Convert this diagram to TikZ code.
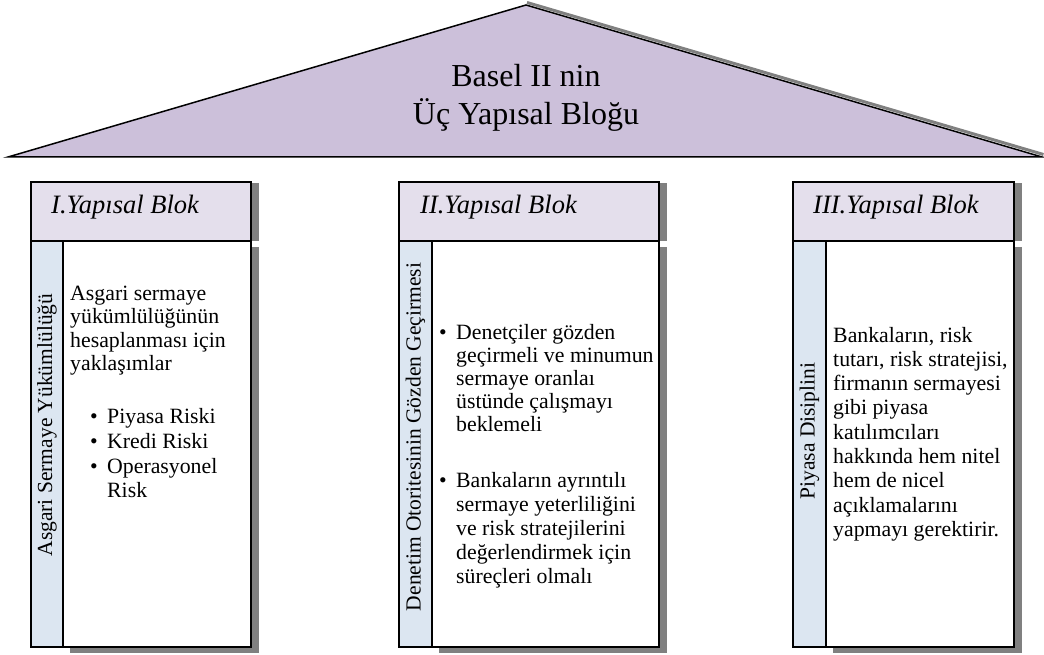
\documentclass[tikz,border=0pt]{standalone}
\usepackage{fontspec}
\setmainfont{Liberation Serif}
\usepackage{tikz}
\usetikzlibrary{positioning}

\definecolor{roofcol}{HTML}{CCC0DA}
\definecolor{headcol}{HTML}{E4DFEC}
\definecolor{stripcol}{HTML}{DCE6F1}
\definecolor{shadecol}{HTML}{808080}

\newcommand{\bulletbox}{\makebox[17pt][l]{\textbullet}}

\tikzset{
  boxline/.style={draw=black, line width=1.5pt},
  rooftext/.style={anchor=base, inner sep=0, font=\fontsize{32}{37}\selectfont},
  headtext/.style={anchor=base west, inner sep=0, font=\fontsize{26.5}{30}\selectfont\itshape},
  bodytext/.style={anchor=base west, inner sep=0, font=\fontsize{21.8}{#1}\selectfont},
  bodytext/.default=24,
  sidetext/.style={rotate=90, inner sep=0, font=\fontsize{21.5}{24}\selectfont}
}

\begin{document}
\begin{tikzpicture}[x=1pt, y=-1pt]
        \useasboundingbox (0,0) rectangle (1044,655);

        % Roof
        \draw[shadecol, line width=3pt] (527,2.5) -- (1043.5,154.5);
        \filldraw[fill=roofcol, boxline] (8,157) -- (526,5) -- (1042,157) -- cycle;
        \node[rooftext] (roof) at (526,87) {\begin{tabular}[t]{@{}c@{}}Basel II nin\\ Üç Yapısal Bloğu\end{tabular}};

        % Blocks
        \foreach \l/\m/\r in {31/63/251, 399/432/659, 793/826/1014}{
          \fill[shadecol] (\r,183) rectangle (\r+8,241);
          \fill[shadecol] (\m+7,247) rectangle (\r+8,653);
          \filldraw[fill=white, boxline] (\m,241) rectangle (\r,647);
          \filldraw[fill=stripcol, boxline] (\l,241) rectangle (\m,647);
          \filldraw[fill=headcol, boxline] (\l,182) rectangle (\r,241);
        }

        \node[headtext] (h1) at (51,214) {I.Yapısal Blok};
        \node[headtext] (h2) at (420,214) {II.Yapısal Blok};
        \node[headtext] (h3) at (813,214) {III.Yapısal Blok};

        \node[sidetext] (s1) at (47,425) {Asgari Sermaye Yükümlülüğü};
        \node[sidetext] (s2) at (415.5,437) {Denetim Otoritesinin Gözden Geçirmesi};
        \node[sidetext] (s3) at (809.5,431) {Piyasa Disiplini};

        % Texts
        \node[bodytext=23.5] (t1) at (70,300) {\begin{tabular}[t]{@{}l@{}}Asgari sermaye\\ yükümlülüğünün\\ hesaplanması için\\ yaklaşımlar\end{tabular}};
        \node[bodytext=24.8] (l1) at (90,423.5) {\begin{tabular}[t]{@{}l@{}l@{}}\bulletbox & Piyasa Riski\\ \bulletbox & Kredi Riski\\ \bulletbox & Operasyonel\\ & Risk\end{tabular}};

        \node[bodytext=23] (l2) at (439,339) {\begin{tabular}[t]{@{}l@{}l@{}}\bulletbox & Denetçiler gözden\\ & geçirmeli ve minumun\\ & sermaye oranlaı\\ & üstünde çalışmayı\\ & beklemeli\end{tabular}};
        \node[bodytext] (m2) at (439,487) {\begin{tabular}[t]{@{}l@{}l@{}}\bulletbox & Bankaların ayrıntılı\\ & sermaye yeterliliğini\\ & ve risk stratejilerini\\ & değerlendirmek için\\ & süreçleri olmalı\end{tabular}};

        \node[bodytext=24.3] (t3) at (833,342) {\begin{tabular}[t]{@{}l@{}}Bankaların, risk\\ tutarı, risk stratejisi,\\ firmanın sermayesi\\ gibi piyasa\\ katılımcıları\\ hakkında hem nitel\\ hem de nicel\\ açıklamalarını\\ yapmayı gerektirir.\end{tabular}};
\end{tikzpicture}
\end{document}
